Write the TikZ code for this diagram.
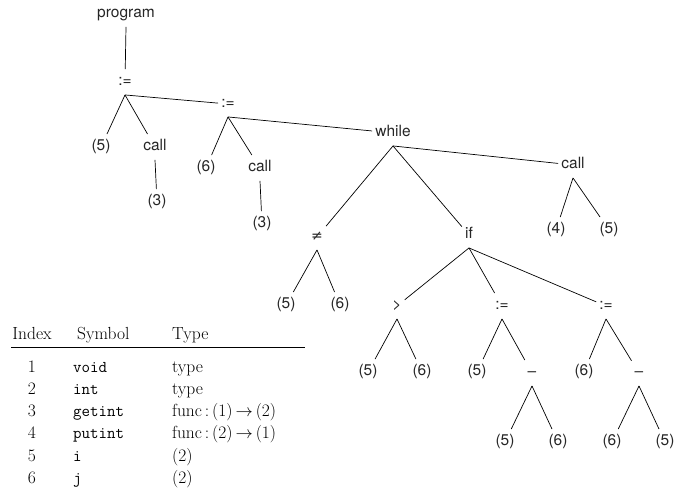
\documentclass[tikz,border=0pt]{standalone}
\usepackage{fontspec}
\newfontfamily\treefont{TeX Gyre Heros}
\newfontfamily\symfont{DejaVu Sans}
\begin{document}
\begin{tikzpicture}[x=1pt,y=-1pt,
  tn/.style={font=\treefont\fontsize{15.5}{18}\selectfont, text height=11pt, text depth=3.5pt,
             inner xsep=3pt, inner ysep=5.5pt, text=black!85},
  edge/.style={line width=0.7pt, black},
  tabtext/.style={font=\fontsize{17.5}{21}\selectfont, inner sep=0pt, anchor=base west},
  tabnum/.style={font=\fontsize{17.5}{21}\selectfont, inner sep=0pt, anchor=base},
  tabsym/.style={font=\ttfamily\fontsize{16.5}{20}\selectfont, inner sep=0pt, anchor=base west}]
\useasboundingbox (0,0) rectangle (679,497);

% ---- syntax tree ----
\node[tn] (prog)   at (126,14)  {program};
\node[tn] (as1)    at (125,82)  {:=};
\node[tn] (l5a)    at (101,147) {(5)};
\node[tn] (call1)  at (155,147) {call};
\node[tn] (c3a)    at (157,202) {(3)};
\node[tn] (as2)    at (228,104) {:=};
\node[tn] (l6a)    at (206,168) {(6)};
\node[tn] (call2)  at (260,168) {call};
\node[tn] (c3b)    at (262,224) {(3)};
\node[tn] (wh)     at (393,133) {while};
\node[tn] (neq)    at (317,237) {{\symfont\fontsize{14}{17}\selectfont ≠}};
\node[tn] (ifn)    at (469,235) {if};
\node[tn] (call3)  at (573,165) {call};
\node[tn] (l4)     at (556,230) {(4)};
\node[tn] (l5b)    at (609,230) {(5)};
\node[tn] (n5c)    at (286,305) {(5)};
\node[tn] (n6c)    at (340,305) {(6)};
\node[tn] (gt)     at (397,306) {>};
\node[tn] (as3)    at (502,306) {:=};
\node[tn] (as4)    at (606,306) {:=};
\node[tn] (g5)     at (368,372) {(5)};
\node[tn] (g6)     at (422,372) {(6)};
\node[tn] (m5)     at (477,372) {(5)};
\node[tn] (mmin)   at (532,373) {–};
\node[tn] (r6)     at (584,372) {(6)};
\node[tn] (rmin)   at (639,373) {–};
\node[tn] (mm5)    at (505,442) {(5)};
\node[tn] (mm6)    at (558,442) {(6)};
\node[tn] (rm6)    at (612,442) {(6)};
\node[tn] (rm5)    at (665,442) {(5)};

\foreach \p/\c in {prog/as1, as1/l5a, as1/call1, as1/as2, call1/c3a,
                   as2/l6a, as2/call2, as2/wh, call2/c3b,
                   wh/neq, wh/ifn, wh/call3, call3/l4, call3/l5b,
                   neq/n5c, neq/n6c, ifn/gt, ifn/as3, ifn/as4,
                   gt/g5, gt/g6, as3/m5, as3/mmin, as4/r6, as4/rmin,
                   mmin/mm5, mmin/mm6, rmin/rm6, rmin/rm5}
  \draw[edge] (\p.south) -- (\c);

% ---- symbol table ----
\node[tabnum]  (hidx)  at (32,339.5)  {Index};
\node[tabtext] (hsym)  at (77,339.5)  {Symbol};
\node[tabtext] (htype) at (172,339.5) {Type};
\coordinate (ruleL) at (11,347);
\coordinate (ruleR) at (305,347);
\draw[line width=0.8pt] (ruleL) -- (ruleR);

\foreach \i/\s/\t/\y in {1/void/type/372.5, 2/int/type/394.5,
    3/getint/{func\,:\,(1)\,$\rightarrow$\,(2)}/416.5,
    4/putint/{func\,:\,(2)\,$\rightarrow$\,(1)}/438.5,
    5/i/(2)/461, 6/j/(2)/483} {
  \node[tabnum] (idx\i)  at (32,\y)  {\i};
  \node[tabsym] (sym\i)  at (73,\y)  {\s};
  \node[tabtext] (typ\i) at (172,\y) {\t};
}
\end{tikzpicture}
\end{document}
